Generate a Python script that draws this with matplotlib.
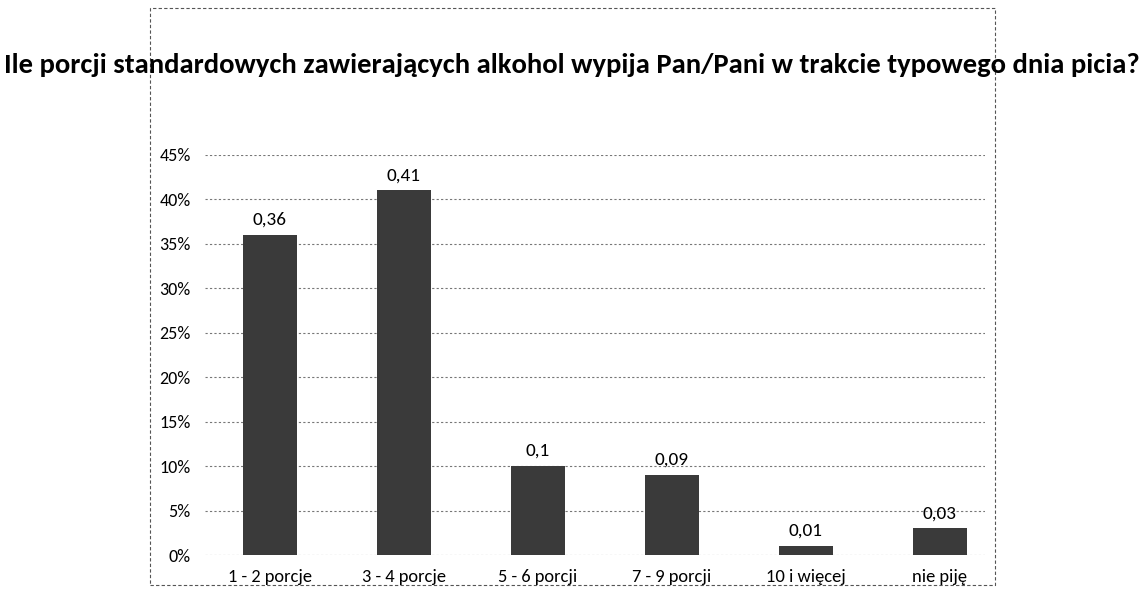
import matplotlib
matplotlib.use("Agg")
import matplotlib.pyplot as plt
from matplotlib.patches import Rectangle
from matplotlib.ticker import FuncFormatter

FONT = ['Carlito', 'DejaVu Sans']
plt.rcParams['font.family'] = FONT

categories = ["1 - 2 porcje", "3 - 4 porcje", "5 - 6 porcji", "7 - 9 porcji", "10 i więcej", "nie piję"]
values = [0.36, 0.41, 0.10, 0.09, 0.01, 0.03]
value_labels = ["0,36", "0,41", "0,1", "0,09", "0,01", "0,03"]
title = "Ile porcji standardowych zawierających alkohol wypija Pan/Pani w trakcie typowego dnia picia?"

fig = plt.figure(figsize=(11.44, 5.92), dpi=100)
ax = fig.add_axes([0.179, 0.0625, 0.682, 0.676])

x = list(range(len(categories)))
ax.bar(x, values, width=0.40, color='#3a3a3a', zorder=3)
for xi, v, lab in zip(x, values, value_labels):
    ax.text(xi, v + 0.008, lab, ha='center', va='bottom', fontsize=13.8)

ax.set_ylim(0, 0.45)
ax.set_xlim(-0.485, 5.336)
ax.set_yticks([i * 0.05 for i in range(10)])
ax.yaxis.set_major_formatter(FuncFormatter(lambda v, p: f"{round(v*100)}%"))
ax.set_xticks(x)
ax.set_xticklabels(categories, fontsize=13.3)
for lab in ax.get_yticklabels():
    lab.set_fontsize(13)
ax.grid(axis='y', color='#777777', linestyle=(0, (2, 2)), linewidth=0.8, zorder=0)
ax.tick_params(length=0, pad=10)
for s in ax.spines.values():
    s.set_visible(False)

# outer dashed chart frame
fig.patches.append(Rectangle((150/1144, 1 - 585/592), 845/1144, 577/592,
                             transform=fig.transFigure, fill=False,
                             edgecolor='#555555', linestyle=(0, (3, 2)), linewidth=0.8))

fig.text(0.5, 1 - 65/592, title, ha='center', va='center', fontsize=20.6,
         fontweight='bold')

fig.savefig("out.png", dpi=100)
